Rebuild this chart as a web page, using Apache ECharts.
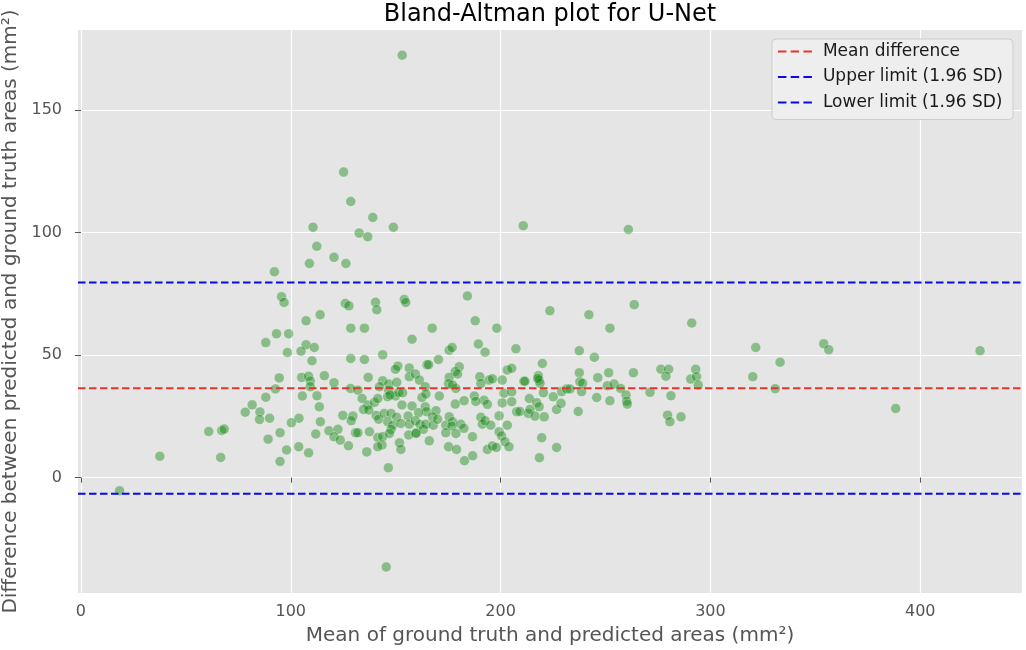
<!DOCTYPE html>
<html>
<head>
<meta charset="utf-8">
<script src="https://cdn.jsdelivr.net/npm/echarts@6/dist/echarts.min.js"></script>
<style>
  html, body { margin: 0; padding: 0; background: #fff; }
  #main { width: 1026px; height: 650px; }
</style>
</head>
<body>
<div id="main"></div>
<script>
// mean of the two areas (x) and their difference (y)
var meanArea = [
  92.2, 95.6, 96.8, 93.2, 99, 88.1, 98.4, 94.5, 92.7, 88.1, 81.6, 78.3, 85.3, 85.1, 89.9,
  60.9, 67.1, 68.3, 94.9, 89.2, 98, 94.9, 37.6, 66.6, 18.4,
  153.1, 125.2, 128.6, 139.1, 110.6, 148.9, 132.6, 136.7, 112.4, 120.6, 108.9, 126.3, 210.8, 260.9,
  184.2, 126, 127.7, 140.4, 141, 154.1, 154.8, 107.3, 114, 128.6, 135.1, 167.4, 187.9, 198.2,
  157.8, 107.3, 104.9, 111.2, 110.1, 128.6, 135.1, 143.8, 175.5, 176.9, 189.4, 192.6, 207.3,
  151, 149.9, 156.5, 164.9, 165.7, 170.4, 180.3, 178.4, 105.2, 108.5, 109.3, 109.3, 116, 120.6,
  136.9, 143.8, 146.7, 150.5, 156.5, 159.4, 161.3, 175.5, 179.5, 175.2, 190.1, 194.5, 196.1,
  190.6, 200.8, 203.2, 205.3, 128.5, 132, 146.7, 142.3, 164.1, 178.7, 177.1, 187.5, 192.1,
  188.2, 193.7, 201.6, 205.3, 200.8, 205.3, 105.5, 112.5, 113.6, 134, 136.7, 139.9, 141.5,
  146.2, 149.9, 151.4, 153.3, 147.3, 162.5, 164.4, 170.8, 178.4, 182.6, 153, 157.8, 164.1,
  164.7, 160.9, 169.2, 124.8, 129.6, 128.8, 134.7, 137.2, 140.7, 141.9, 144.5, 147.8, 150.5,
  146.2, 148.6, 147.8, 155.9, 152.5, 156.5, 159.4, 161.6, 159.7, 163.2, 164.4, 167.6, 167.9,
  170, 173.9, 175.5, 177.1, 176.8, 181, 182.5, 178.7, 186.6, 190.6, 191.3, 192.6, 195.3,
  199.3, 203.2, 199.3, 200.5, 207.7, 103.9, 100.3, 114.1, 111.9, 118.2, 122.5, 120.6, 123.6,
  127.5, 130.9, 132, 137.5, 141.5, 143.8, 143.5, 147, 151.8, 152.5, 156.2, 159.7, 166, 173.9,
  175.2, 179, 182.8, 186.7, 193.7, 196.1, 198, 202.1, 204, 136.2, 141.5, 103.8, 108.5, 146.5, 145.5,
  223.5, 242.1, 263.7, 252.1, 291.1, 237.5, 244.7, 219.9, 211.1, 211.6, 218, 218.3, 218.8, 217.7,
  220.4, 225.1, 229.1, 231.5, 233.1, 237.5, 237.8, 239.1, 238.6, 246.3, 251.5, 250.9, 254.1,
  252.1, 245.8, 257.2, 259.8, 260.1, 260.4, 263.3, 271.2, 276.4, 280.1, 278.8, 281.2, 279.6,
  280.7, 286, 293, 290.6, 293.4, 294.2, 213.7, 217.2, 218.4, 226.7, 228.8, 209.2, 213.2, 214,
  216.4, 220.8, 237, 219.6, 226.7, 218.5,
  321.6, 320.2, 333.2, 330.9, 354, 356.4, 388.3, 428.5
];
var areaDiff = [
  84, 73.8, 71.5, 58.7, 58.7, 55.1, 51.1, 40.7, 36.2, 32.8, 29.7, 26.7, 26.8, 23.7, 24.2,
  18.8, 19.2, 19.8, 18.3, 15.7, 11.3, 6.6, 8.7, 8.2, -5.4,
  172.4, 124.7, 112.7, 106.2, 102.2, 102.2, 99.8, 98.3, 94.4, 89.9, 87.4, 87.4, 102.8, 101.3,
  74.1, 71.1, 70.1, 71.6, 68.5, 72.7, 71.5, 64, 66.5, 61, 61, 61, 64, 61,
  56.5, 54.2, 51.6, 53.1, 47.7, 48.6, 48.2, 50.1, 52, 53.1, 54.5, 51.2, 52.6,
  45.5, 44.2, 44.7, 46.1, 46.1, 48.2, 45.2, 43.3, 40.9, 41.4, 39.4, 37.1, 41.6, 38.7,
  40.9, 39.5, 38.2, 38.9, 41.2, 42.3, 39.8, 40.9, 42.3, 38.4, 41.2, 39.8, 40.3,
  38.4, 39.8, 43.9, 44.6, 36.4, 35.7, 35.7, 37.1, 37.1, 36.4, 37.8, 33.3, 31.6,
  31.1, 29.9, 34.4, 35, 30.5, 31, 33.3, 33.4, 28.9, 32.3, 29.6, 30.7, 32.3,
  33, 33.3, 34.8, 34.6, 33.7, 32.7, 34.1, 33.3, 30, 31.4, 29.6, 29.2, 28.9,
  26.9, 26.5, 27.3, 25.4, 25.1, 23.2, 27.8, 27.6, 25.4, 23.8, 26.2, 26.2, 24.6,
  22.8, 21.4, 19.7, 25.1, 22.1, 21.8, 23.2, 21.7, 18.3, 19.7, 21.8, 24.8, 21.4,
  23.8, 21.4, 24.8, 22.8, 21, 21.8, 20.1, 18, 16.7, 24.6, 21.8, 23.2, 21.4,
  25.2, 21.4, 18.7, 17, 26.9, 24.2, 22.4, 22.8, 17.8, 19.1, 19.7, 16.7, 15.3,
  13, 18.3, 18.3, 18.7, 16.4, 16.7, 13.3, 18, 14.2, 11.5, 17.4, 18, 15, 18.3,
  12.6, 11.5, 6.9, 8.9, 11.5, 12.9, 12.3, 14.6, 12.6, 10.5, 12.6, 12.6, 10.1, 4, -36.5,
  68.1, 66.5, 70.6, 61, 63.1, 51.8, 49.1, 46.6, 39.3, 39.3, 41.6, 39.8, 38.5, 40.5,
  34.6, 33, 35.1, 36.2, 36.2, 42.8, 39.1, 38.5, 35.1, 40.8, 42.8, 37.5, 38.2,
  31.4, 32.7, 36.4, 33.7, 31.2, 30, 42.8, 34.8, 44.2, 44.2, 41.4, 33.4, 25.5,
  22.8, 24.8, 44.2, 40.2, 41.2, 37.8, 32.3, 30.6, 28.9, 27.8, 30.3, 27, 26.2, 27.8,
  25.1, 24.8, 27, 16.3, 12.3, 8.1,
  53.1, 41.2, 47.1, 36.3, 54.6, 52.2, 28.2, 51.8
];

var meanDiff = 36.5;
var upperLimit = 79.6;
var lowerLimit = -6.6;

var xTicks = [0, 100, 200, 300, 400];
var yTicks = [0, 50, 100, 150];
var xMin = -1.4, xMax = 448.5;
var yMin = -47.1, yMax = 182.7;

var points = [];
for (var i = 0; i < meanArea.length; i++) points.push([meanArea[i], areaDiff[i]]);

var font = 'DejaVu Sans';
var dashIcon = 'path://M0,0h8.5v2h-8.5z M12.75,0h8.5v2h-8.5z M25.5,0h8.5v2h-8.5z';

function hline(name, v, color) {
  return {
    name: name,
    type: 'line',
    data: [[xMin, v], [xMax, v]],
    symbol: 'none',
    silent: true,
    z: 5,
    lineStyle: { color: color, width: 2, type: [7.5, 3.5] },
    itemStyle: { color: color }
  };
}

var myChart = echarts.init(document.getElementById('main'));
myChart.setOption({
  animation: false,
  backgroundColor: '#ffffff',
  textStyle: { fontFamily: font },
  graphic: [{
    type: 'text',
    x: 550, y: 15,
    style: {
      text: 'Bland-Altman plot for U-Net',
      fontFamily: font, fontSize: 24, fill: '#000',
      textAlign: 'center', textVerticalAlign: 'middle'
    }
  }],
  grid: {
    left: 78, right: 4, top: 30, bottom: 57,
    containLabel: false,
    outerBoundsMode: 'none',
    show: true, backgroundColor: '#e5e5e5', borderWidth: 0
  },
  legend: {
    orient: 'vertical',
    right: 13, top: 39,
    padding: [3.5, 10, 8, 6],
    itemGap: 7.5,
    itemWidth: 34, itemHeight: 14,
    backgroundColor: 'rgba(238,238,238,0.9)',
    borderColor: '#cdcdcd', borderWidth: 1, borderRadius: 4,
    textStyle: { fontFamily: font, fontSize: 17, color: '#1a1a1a', lineHeight: 18, padding: [0, 0, 0, 6] },
    data: [
      { name: 'Mean difference', icon: dashIcon },
      { name: 'Upper limit (1.96 SD)', icon: dashIcon },
      { name: 'Lower limit (1.96 SD)', icon: dashIcon }
    ]
  },
  xAxis: {
    type: 'value', min: xMin, max: xMax, offset: 1.5,
    name: 'Mean of ground truth and predicted areas (mm²)',
    nameLocation: 'middle', nameGap: 31,
    nameTextStyle: { fontFamily: font, fontSize: 20, color: '#555' },
    axisLine: { show: false },
    axisTick: { show: true, length: 5, customValues: xTicks, lineStyle: { color: '#555' } },
    axisLabel: { customValues: xTicks, color: '#555', fontSize: 16, margin: 9, fontFamily: font },
    splitLine: { show: true, lineStyle: { color: '#ffffff', width: 1.2 } }
  },
  yAxis: {
    type: 'value', min: yMin, max: yMax, offset: 3,
    name: 'Difference between predicted and ground truth areas (mm²)',
    nameLocation: 'middle', nameGap: 47, nameRotate: 90,
    nameTextStyle: { fontFamily: font, fontSize: 20, color: '#555' },
    axisLine: { show: false },
    axisTick: { show: true, length: 6, customValues: yTicks, lineStyle: { color: '#555' } },
    axisLabel: { customValues: yTicks, color: '#555', fontSize: 16, margin: 13, fontFamily: font },
    splitLine: { show: true, lineStyle: { color: '#ffffff', width: 1.2 } }
  },
  series: [
    {
      type: 'scatter',
      data: points,
      symbolSize: 10,
      z: 3,
      itemStyle: {
        color: 'rgba(0,128,0,0.5)',
        borderColor: 'rgba(255,255,255,0.5)',
        borderWidth: 0.8
      }
    },
    hline('Mean difference', meanDiff, '#e2372a'),
    hline('Upper limit (1.96 SD)', upperLimit, '#0a0ae6'),
    hline('Lower limit (1.96 SD)', lowerLimit, '#0a0ae6')
  ]
});
</script>
</body>
</html>
